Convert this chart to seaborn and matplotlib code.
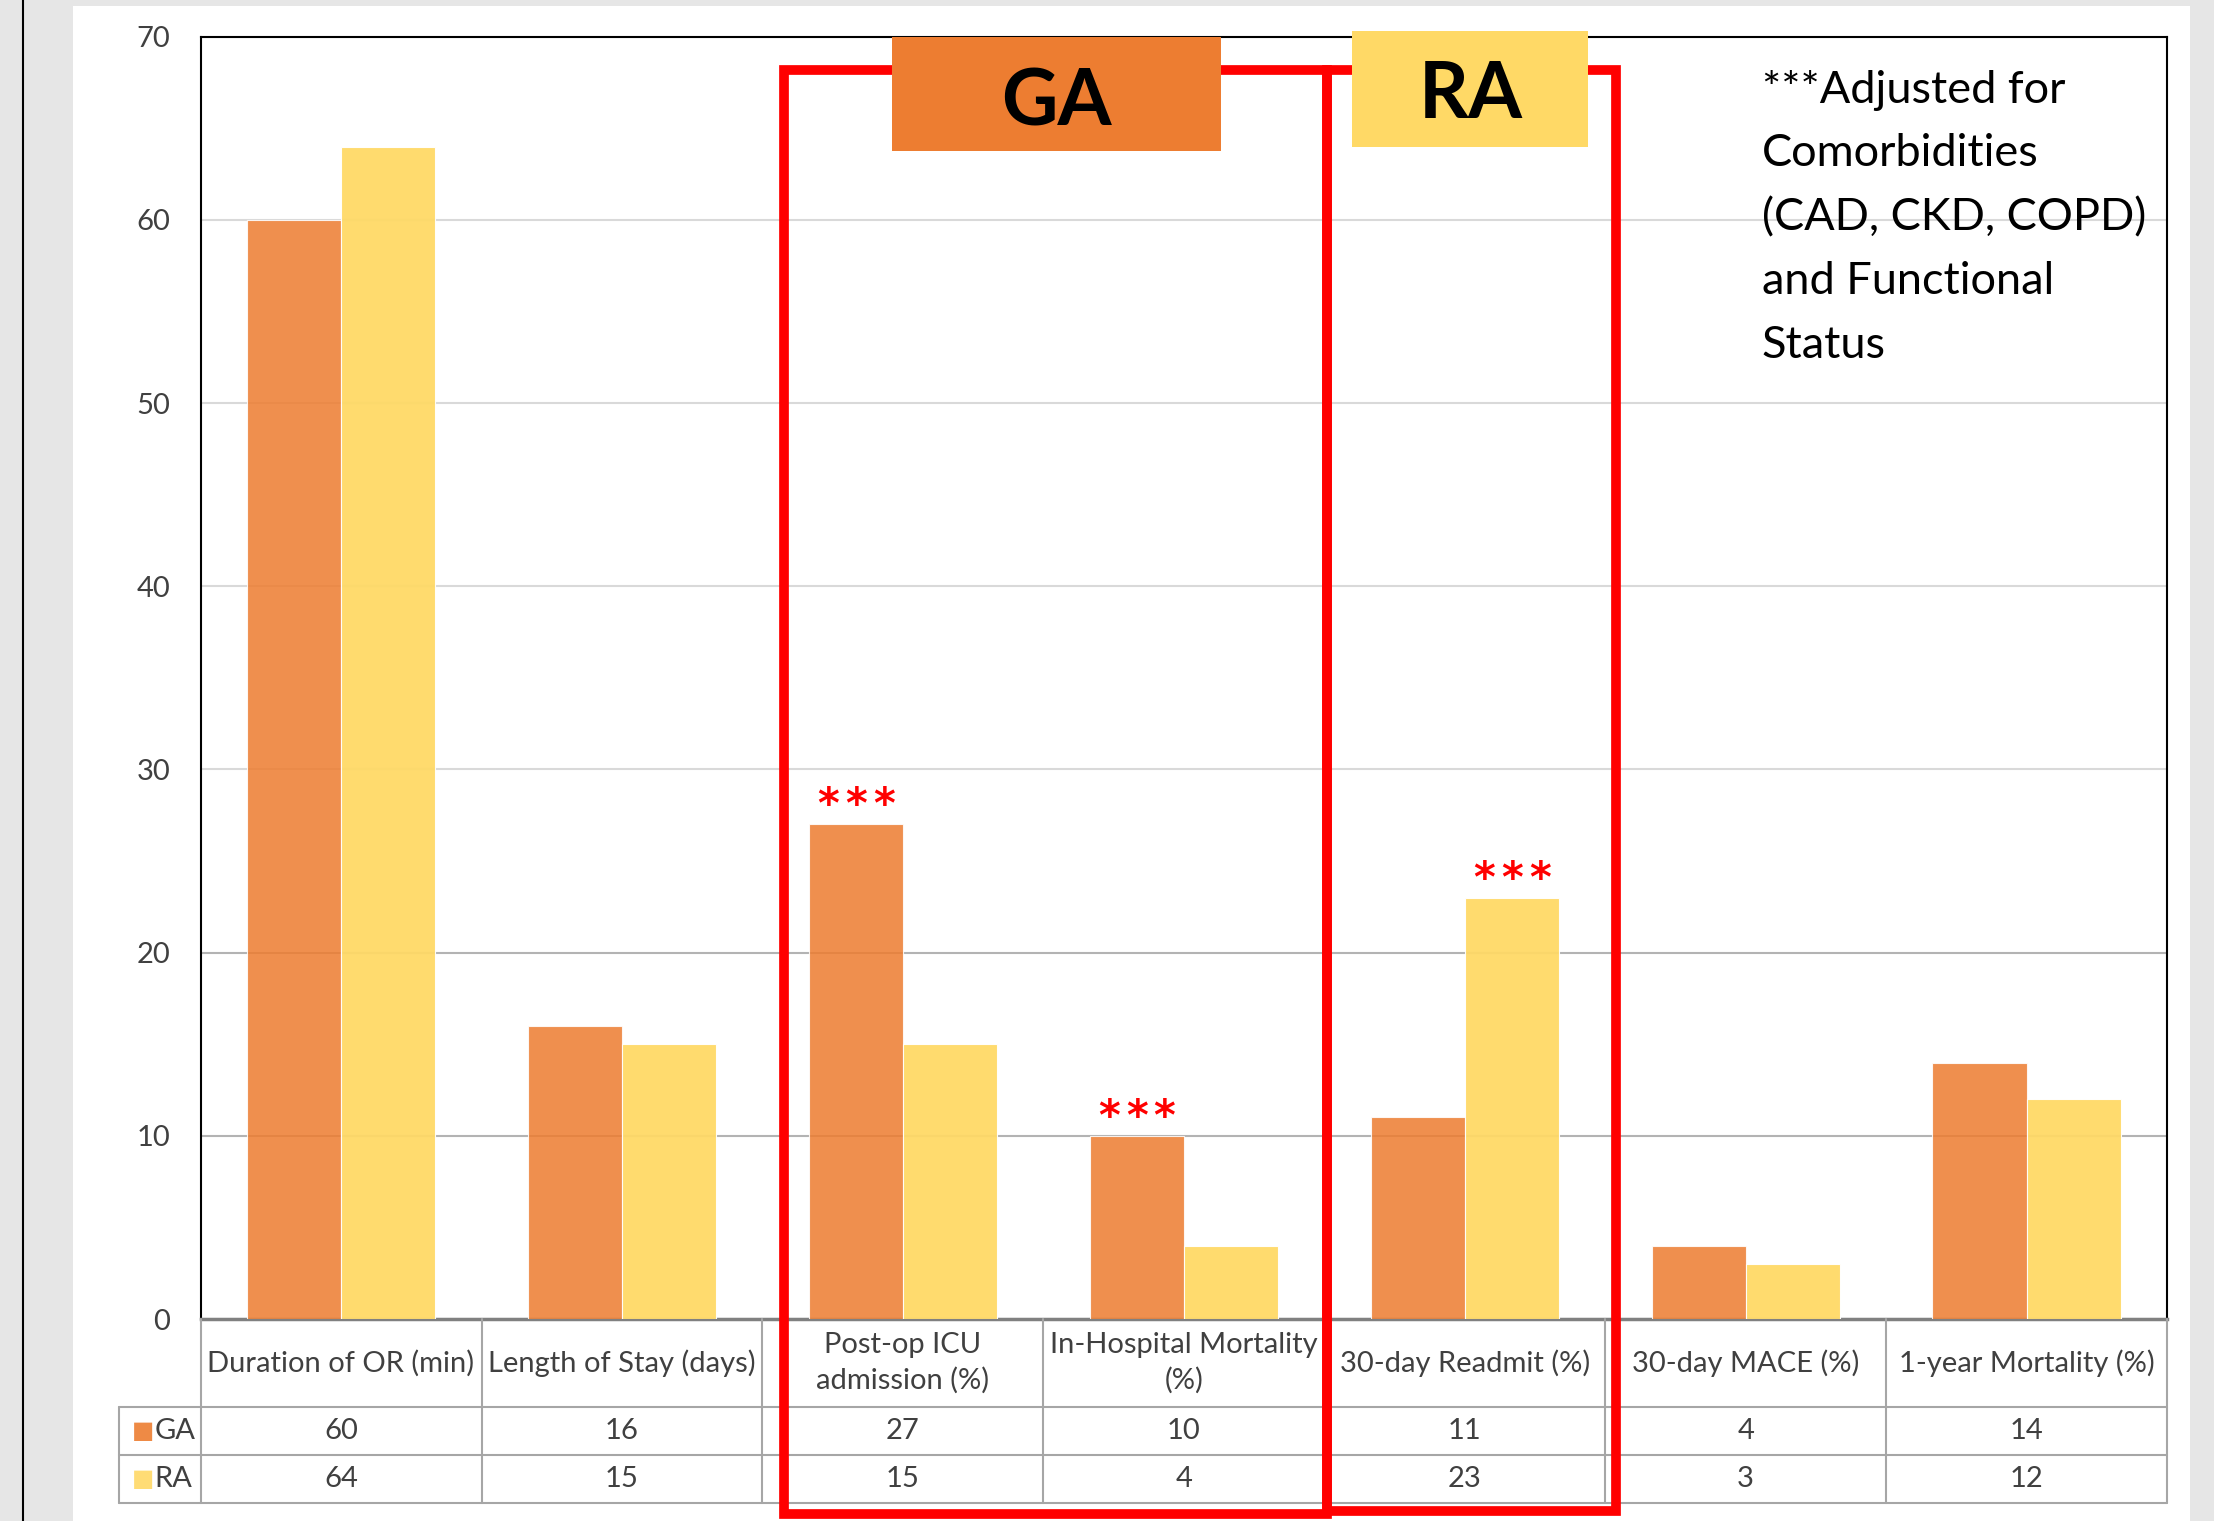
import matplotlib
matplotlib.use("Agg")
import matplotlib.pyplot as plt
import matplotlib.transforms as mtransforms
from matplotlib.patches import Rectangle
import pandas as pd
import seaborn as sns

categories = ["Duration of OR (min)", "Length of Stay (days)", "Post-op ICU\nadmission (%)",
              "In-Hospital Mortality\n(%)", "30-day Readmit (%)", "30-day MACE (%)",
              "1-year Mortality (%)"]
ga_vals = [60, 16, 27, 10, 11, 4, 14]
ra_vals = [64, 15, 15, 4, 23, 3, 12]
groups = ["GA", "RA"]
ga_starred = [2, 3]
ra_starred = [4]
y_ticks = [0, 10, 20, 30, 40, 50, 60, 70]
note = "***Adjusted for\nComorbidities\n(CAD, CKD, COPD)\nand Functional\nStatus"

ga_color = "#ED7D31"
ra_color = "#FFD966"
text_gray = "#404040"
line_gray = "#a6a6a6"

df = pd.DataFrame({
    "category": categories * 2,
    "value": ga_vals + ra_vals,
    "group": ["GA"] * len(categories) + ["RA"] * len(categories),
})

sns.set_style("white")
plt.rcParams["font.family"] = ["Lato", "DejaVu Sans"]

fig = plt.figure(figsize=(22.14, 15.21), dpi=100, facecolor="#e6e6e6")
# white panel behind the chart
fig.patches.append(Rectangle((0.033, 0), 0.956, 0.996, transform=fig.transFigure,
                             facecolor="white", edgecolor="none", zorder=-10))
fig.lines.append(plt.Line2D([0.0105, 0.0105], [0, 1], transform=fig.transFigure,
                            color="black", lw=1.5, zorder=-5))

ax = fig.add_axes([0.0906, 0.1328, 0.9788 - 0.0906, 0.9759 - 0.1328])
ax.set_facecolor("none")

sns.barplot(data=df, x="category", y="value", hue="group", order=categories,
            hue_order=groups, palette=[ga_color, ra_color], saturation=1,
            width=0.67, legend=False, ax=ax, zorder=3)
for cont, a in zip(ax.containers, [0.86, 0.95]):
    for bar in cont:
        bar.set_alpha(a)
        bar.set_edgecolor("white")
        bar.set_linewidth(0.8)

ax.set_ylim(0, 70)
ax.set_xlim(-0.5, len(categories) - 0.5)
ax.set_yticks(y_ticks)
ax.set_yticklabels([str(t) for t in y_ticks])
ax.tick_params(axis="y", length=0, pad=22, labelsize=21, labelcolor=text_gray)
ax.set_xticks([])
ax.set_xlabel("")
ax.set_ylabel("")
ax.yaxis.grid(True, color="#d9d9d9", lw=1.5, zorder=0)
for t, gl in zip(y_ticks, ax.get_ygridlines()):
    if t in (10, 20):
        gl.set_color("#b3b3b3")
ax.set_axisbelow(True)
for s in ["left", "top", "right"]:
    ax.spines[s].set_color("black")
    ax.spines[s].set_linewidth(1.5)
ax.spines["bottom"].set_color("#808080")
ax.spines["bottom"].set_linewidth(2.5)

# stars over the adjusted results
for idx_list, cont in zip([ga_starred, ra_starred], ax.containers):
    for i in idx_list:
        bar = cont[i]
        for dx in (-20, 0, 20):
            ax.annotate("*", (bar.get_x() + bar.get_width() / 2, bar.get_height()),
                        xytext=(dx, 13), textcoords="offset points", ha="center",
                        va="center", color="red", fontsize=30, fontweight="bold",
                        family="DejaVu Sans", zorder=6)

# data table under the chart
trans = mtransforms.blended_transform_factory(ax.transData, ax.transAxes)
n = len(categories)
header_b, ga_b, ra_b = -0.0683, -0.1057, -0.1432
tbl_kw = dict(transform=trans, clip_on=False, color=line_gray, lw=1.5, zorder=4)
for k in range(n + 1):
    ax.plot([k - 0.5, k - 0.5], [0, ra_b], **tbl_kw)
ax.plot([-0.79, -0.79], [header_b, ra_b], **tbl_kw)
for yb in [header_b, ga_b, ra_b]:
    ax.plot([-0.79, n - 0.5], [yb, yb], **tbl_kw)

for i, cat in enumerate(categories):
    ax.text(i, header_b / 2, cat, transform=trans, ha="center", va="center",
            fontsize=21, color=text_gray, linespacing=1.4)
    ax.text(i, (header_b + ga_b) / 2, str(ga_vals[i]), transform=trans, ha="center",
            va="center", fontsize=21, color=text_gray)
    ax.text(i, (ga_b + ra_b) / 2, str(ra_vals[i]), transform=trans, ha="center",
            va="center", fontsize=21, color=text_gray)

for g, col, (top, bot) in zip(groups, [ga_color, ra_color],
                              [(header_b, ga_b), (ga_b, ra_b)]):
    ymid = (top + bot) / 2
    ax.text(-0.745, ymid, "\u25A0", transform=trans, ha="left", va="center",
            fontsize=17, color=col, alpha=0.9, family="DejaVu Sans")
    ax.text(-0.665, ymid, g, transform=trans, ha="left", va="center",
            fontsize=21, color=text_gray)

# red boxes around the adjusted outcomes
box_kw = dict(fill=False, edgecolor="red", lw=7, clip_on=False, zorder=7, transform=trans)
ax.add_patch(Rectangle((1.575, -0.152), 3.51 - 1.575, 0.974 + 0.152, **box_kw))
ax.add_patch(Rectangle((3.51, -0.150), 4.54 - 3.51, 0.974 + 0.150, **box_kw))

# group labels
ax.add_patch(Rectangle((1.962, 63.76), 3.133 - 1.962, 6.24, facecolor=ga_color,
                       edgecolor="none", clip_on=False, zorder=8))
ax.add_patch(Rectangle((3.60, 64.0), 4.44 - 3.60, 6.3, facecolor=ra_color,
                       edgecolor="none", clip_on=False, zorder=8))
ax.text((1.962 + 3.133) / 2, 66.35, "GA", ha="center", va="center", fontsize=56,
        fontweight="bold", color="black", zorder=9)
ax.text((3.60 + 4.44) / 2, 66.75, "RA", ha="center", va="center", fontsize=56,
        fontweight="bold", color="black", zorder=9)

ax.text(5.058, 68.2, note, ha="left", va="top", fontsize=32.5, color="black",
        linespacing=1.69, zorder=9)

fig.savefig("out.png", dpi=100, facecolor=fig.get_facecolor())
